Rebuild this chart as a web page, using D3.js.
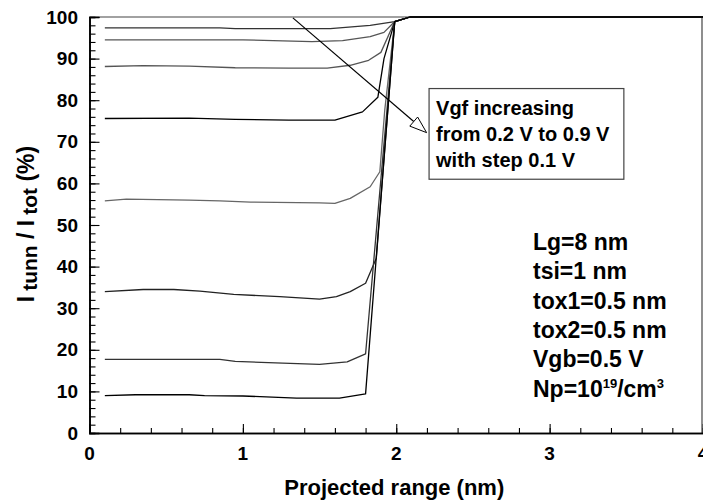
<!DOCTYPE html>
<html lang="en">
<head>
<meta charset="UTF-8">
<title>Itunn / Itot</title>
<script src="https://cdnjs.cloudflare.com/ajax/libs/d3/7.8.5/d3.min.js"></script>
<style>
    body {
        margin: 0;
        background: white;
        font-family: "Liberation Sans", Arial, sans-serif;
    }
    .curve {
        fill: none;
        stroke-width: 1.3px;
        stroke-linejoin: round;
    }
    .tick-label {
        font-size: 19px;
        font-weight: bold;
        fill: #000;
    }
</style>
</head>
<body>
<script>
    // Vgf values, top curve (0.2 V) down to bottom curve (0.9 V)
    var vgf = [0.2, 0.3, 0.4, 0.5, 0.6, 0.7, 0.8, 0.9];

    // [projected range (nm), Itunn/Itot (%)]
    var vgf02 = [[0.1, 97.4], [0.85, 97.4], [0.95, 97.2], [1.57, 97.2], [1.83, 98.0], [1.99, 98.9], [2.09, 100], [4, 100]];
    var vgf03 = [[0.1, 94.5], [1.0, 94.5], [1.45, 94.1], [1.65, 94.3], [1.83, 95.3], [1.92, 96.3], [1.99, 98.9], [2.09, 100], [4, 100]];
    var vgf04 = [[0.1, 88.1], [0.35, 88.3], [0.65, 88.2], [0.95, 87.8], [1.3, 87.7], [1.55, 87.7], [1.7, 88.4], [1.82, 89.6], [1.9, 91.5], [1.99, 98.9], [2.09, 100], [4, 100]];
    var vgf05 = [[0.1, 75.6], [0.65, 75.7], [0.95, 75.4], [1.3, 75.2], [1.6, 75.2], [1.78, 77.2], [1.88, 80.7], [1.92, 90.0], [1.99, 98.9], [2.09, 100], [4, 100]];
    var vgf06 = [[0.1, 55.8], [0.24, 56.2], [0.65, 56.0], [0.85, 55.8], [1.05, 55.5], [1.5, 55.3], [1.6, 55.2], [1.7, 56.4], [1.83, 59.2], [1.893, 62.8], [1.925, 77.6], [1.99, 98.9], [2.09, 100], [4, 100]];
    var vgf07 = [[0.1, 34.0], [0.35, 34.5], [0.55, 34.5], [0.72, 34.1], [0.94, 33.3], [1.24, 32.8], [1.5, 32.2], [1.61, 32.8], [1.7, 34.0], [1.8, 36.0], [1.87, 42.0], [1.99, 98.9], [2.09, 100], [4, 100]];
    var vgf08 = [[0.1, 17.7], [0.85, 17.7], [0.95, 17.2], [1.26, 16.8], [1.5, 16.5], [1.68, 17.1], [1.8, 19.0], [1.99, 98.9], [2.09, 100], [4, 100]];
    var vgf09 = [[0.1, 9.0], [0.3, 9.2], [0.65, 9.2], [0.75, 9.0], [1.0, 8.9], [1.35, 8.4], [1.63, 8.4], [1.75, 9.1], [1.8, 9.4], [1.99, 98.9], [2.09, 100], [4, 100]];

    var curves = [vgf02, vgf03, vgf04, vgf05, vgf06, vgf07, vgf08, vgf09];
    var curveColors = ["#333", "#555", "#555", "#000", "#666", "#222", "#333", "#000"];

    var xTicks = [0, 1, 2, 3, 4];
    var yTicks = [0, 10, 20, 30, 40, 50, 60, 70, 80, 90, 100];

    // annotations (data coordinates)
    var arrowFrom = [1.326, 99.8], arrowTo = [2.198, 72.2];
    var noteBox = [2.214, 82.8, 3.484, 61.0];
    var noteLines = ["Vgf increasing", "from 0.2 V to 0.9 V", "with step 0.1 V"];
    var paramLines = ["Lg=8 nm", "tsi=1 nm", "tox1=0.5 nm", "tox2=0.5 nm", "Vgb=0.5 V"];

    var W = 703, H = 500;
    var x = d3.scaleLinear().domain([0, 4]).range([89.5, 703]);
    var y = d3.scaleLinear().domain([0, 100]).range([433, 17]);

    var svg = d3.select("body").append("svg")
        .attr("width", W)
        .attr("height", H);

    // frame top / right
    svg.append("line")
        .attr("x1", x(0)).attr("x2", x(4))
        .attr("y1", y(100)).attr("y2", y(100))
        .style("stroke", "#444").style("stroke-width", 1.2);
    svg.append("line")
        .attr("x1", x(4) - 1).attr("x2", x(4) - 1)
        .attr("y1", y(100)).attr("y2", y(0))
        .style("stroke", "#444").style("stroke-width", 1.2);

    // axes, ticks pointing inward
    var xAxis = d3.axisTop(x).tickValues(d3.range(0, 4.01, 0.2)).tickSize(5).tickFormat("");
    var xMajor = d3.axisTop(x).tickValues(xTicks).tickSize(9).tickFormat("");
    var yAxis = d3.axisRight(y).tickValues(d3.range(0, 100.1, 2)).tickSize(6).tickFormat("");
    var yMajor = d3.axisRight(y).tickValues(yTicks).tickSize(10).tickFormat("");

    var gx = svg.append("g").attr("transform", "translate(0," + y(0) + ")");
    gx.call(xAxis);
    gx.append("g").call(xMajor);
    var gy = svg.append("g").attr("transform", "translate(" + x(0) + ",0)");
    gy.call(yAxis);
    gy.append("g").call(yMajor);
    svg.selectAll(".domain").style("stroke", "#000").style("stroke-width", 1.6);
    svg.selectAll(".tick line").style("stroke", "#000").style("stroke-width", 1.1);

    svg.selectAll(".xlab")
        .data(xTicks)
        .enter().append("text")
        .attr("class", "tick-label")
        .attr("x", function(d) { return x(d); })
        .attr("y", 460)
        .attr("text-anchor", "middle")
        .text(function(d) { return d; });

    svg.selectAll(".ylab")
        .data(yTicks)
        .enter().append("text")
        .attr("class", "tick-label")
        .attr("x", 78)
        .attr("y", function(d) { return y(d); })
        .attr("dy", "0.35em")
        .attr("text-anchor", "end")
        .text(function(d) { return d; });

    // curves
    var line = d3.line()
        .x(function(d) { return x(d[0]); })
        .y(function(d) { return y(d[1]); });

    svg.selectAll(".curve")
        .data(curves)
        .enter().append("path")
        .attr("class", "curve")
        .attr("d", line)
        .style("stroke", function(d, i) { return curveColors[i]; });

    // arrow
    var ax1 = x(arrowFrom[0]), ay1 = y(arrowFrom[1]);
    var ax2 = x(arrowTo[0]), ay2 = y(arrowTo[1]);
    var ang = Math.atan2(ay2 - ay1, ax2 - ax1);
    var headLen = 17, headW = 6;
    var bx = ax2 - headLen * Math.cos(ang), by = ay2 - headLen * Math.sin(ang);
    svg.append("line")
        .attr("x1", ax1).attr("y1", ay1)
        .attr("x2", bx).attr("y2", by)
        .style("stroke", "#000").style("stroke-width", 1.2);
    svg.append("path")
        .attr("d", "M" + ax2 + "," + ay2 +
            "L" + (bx - headW * Math.sin(ang)) + "," + (by + headW * Math.cos(ang)) +
            "L" + (bx + headW * Math.sin(ang)) + "," + (by - headW * Math.cos(ang)) + "Z")
        .style("fill", "white").style("stroke", "#000").style("stroke-width", 1);

    // note box
    svg.append("rect")
        .attr("x", x(noteBox[0])).attr("y", y(noteBox[1]))
        .attr("width", x(noteBox[2]) - x(noteBox[0]))
        .attr("height", y(noteBox[3]) - y(noteBox[1]))
        .style("fill", "white").style("stroke", "#444").style("stroke-width", 1.2);

    svg.selectAll(".note")
        .data(noteLines)
        .enter().append("text")
        .attr("x", x(noteBox[0]) + 7)
        .attr("y", function(d, i) { return 115 + i * 26; })
        .style("font-size", "20px").style("font-weight", "bold")
        .text(function(d) { return d; });

    // device parameters
    svg.selectAll(".param")
        .data(paramLines)
        .enter().append("text")
        .attr("x", 533)
        .attr("y", function(d, i) { return 250 + i * 29.3; })
        .style("font-size", "23px").style("font-weight", "bold")
        .text(function(d) { return d; });

    var np = svg.append("text")
        .attr("x", 533).attr("y", 250 + 5 * 29.3)
        .style("font-size", "23px").style("font-weight", "bold");
    np.append("tspan").text("Np=10");
    np.append("tspan").attr("dy", -9).style("font-size", "13px").text("19");
    np.append("tspan").attr("dy", 9).text("/cm");
    np.append("tspan").attr("dy", -9).style("font-size", "13px").text("3");

    // axis titles
    svg.append("text")
        .attr("x", (x(0) + x(4)) / 2 - 2)
        .attr("y", 495)
        .attr("text-anchor", "middle")
        .style("font-size", "22px").style("font-weight", "bold")
        .text("Projected range (nm)");

    var yt = svg.append("text")
        .attr("transform", "translate(34,224) rotate(-90)")
        .attr("text-anchor", "middle")
        .style("font-size", "23px").style("font-weight", "bold");
    yt.append("tspan").text("I");
    yt.append("tspan").attr("dx", 5).attr("dy", 3).style("font-size", "21px").text("tunn");
    yt.append("tspan").attr("dy", -3).text(" / I");
    yt.append("tspan").attr("dx", 5).attr("dy", 3).style("font-size", "21px").text("tot");
    yt.append("tspan").attr("dy", -3).text("  (%)");
</script>
</body>
</html>
